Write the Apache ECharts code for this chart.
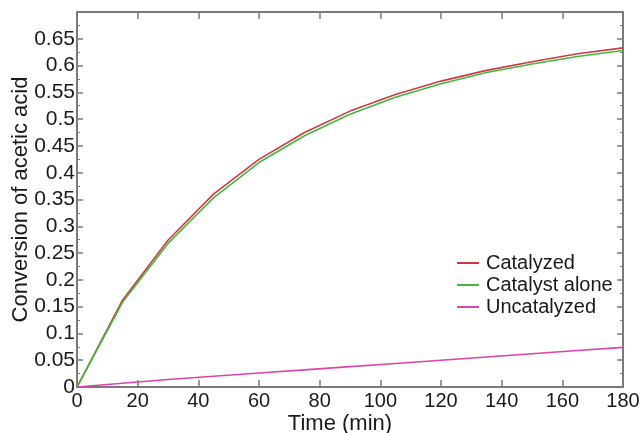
<!DOCTYPE html>
<html>
<head>
<meta charset="utf-8">
<script src="https://cdn.jsdelivr.net/npm/echarts@6/dist/echarts.min.js"></script>
<style>
  html, body { margin: 0; padding: 0; background: #fff; }
  #chart { width: 644px; height: 433px; }
</style>
</head>
<body>
<div id="chart"></div>
<script>
const time = [0, 15, 30, 45, 60, 75, 90, 105, 120, 135, 150, 165, 180]
const catalyzed = [0, 0.162, 0.274, 0.36, 0.425, 0.475, 0.515, 0.546, 0.571, 0.591, 0.607, 0.622, 0.633]
const catalystAlone = [0, 0.158, 0.268, 0.353, 0.419, 0.469, 0.509, 0.541, 0.566, 0.587, 0.603, 0.617, 0.628]
const uncatalyzed = [0, 0.007, 0.014, 0.02, 0.026, 0.032, 0.038, 0.044, 0.05, 0.056, 0.062, 0.068, 0.074]

const pairs = vals => time.map((t, i) => [t, vals[i]])

const axisColor = '#7a7a7a'
const textColor = '#1a1a1a'
const font = 'Liberation Sans, Arial, sans-serif'

const chart = echarts.init(document.getElementById('chart'))

const lineSeries = (name, vals, color) => ({
    name,
    type: 'line',
    data: pairs(vals),
    showSymbol: false,
    symbol: 'none',
    lineStyle: { color, width: 1.6 },
    itemStyle: { color },
    animation: false
})

// mirrored axes (top / right) only carry ticks
const tickStyle = { color: axisColor, width: 1.5 }

chart.setOption({
    backgroundColor: '#fff',
    grid: { left: 77, right: 21, top: 12, bottom: 46, outerBoundsMode: 'none', containLabel: false },
    legend: {
        orient: 'vertical',
        left: 457,
        top: 253,
        padding: 0,
        itemWidth: 22,
        itemHeight: 2,
        itemGap: 2,
        icon: 'rect',
        textStyle: { fontFamily: font, fontSize: 20, lineHeight: 20, color: textColor, padding: [0, 0, 0, 2] },
        data: ['Catalyzed', 'Catalyst alone', 'Uncatalyzed']
    },
    xAxis: [{
        type: 'value',
        min: 0, max: 180, interval: 20,
        name: 'Time (min)',
        nameLocation: 'middle',
        nameGap: 26,
        nameMoveOverlap: false,
        nameTextStyle: { fontFamily: font, fontSize: 22, color: textColor, padding: [0, 20, 0, 0] },
        axisLine: { onZero: false, lineStyle: { color: axisColor, width: 2 } },
        axisTick: { inside: true, length: 7, lineStyle: tickStyle },
        axisLabel: { fontFamily: font, fontSize: 20, color: textColor, margin: 4 },
        splitLine: { show: false }
    }, {
        type: 'value',
        position: 'top',
        min: 0, max: 180, interval: 20,
        axisLine: { show: true, onZero: false, lineStyle: { color: axisColor, width: 2 } },
        axisTick: { show: true, inside: true, length: 7, lineStyle: tickStyle },
        axisLabel: { show: false },
        splitLine: { show: false }
    }],
    yAxis: [{
        type: 'value',
        min: 0, max: 0.7, interval: 0.05,
        name: 'Conversion of acetic acid',
        nameLocation: 'middle',
        nameGap: 45,
        nameMoveOverlap: false,
        nameTextStyle: { fontFamily: font, fontSize: 22, color: textColor },
        axisLine: { show: true, onZero: false, lineStyle: { color: axisColor, width: 2 } },
        axisTick: { inside: true, length: 6, lineStyle: tickStyle },
        minorTick: { show: true, splitNumber: 2, length: 3, lineStyle: { color: axisColor } },
        axisLabel: {
            fontFamily: font, fontSize: 21, color: textColor, margin: 2,
            formatter: v => (v > 0.69 ? '' : String(+v.toFixed(2)))
        },
        splitLine: { show: false }
    }, {
        type: 'value',
        position: 'right',
        min: 0, max: 0.7, interval: 0.05,
        axisLine: { show: true, onZero: false, lineStyle: { color: axisColor, width: 2 } },
        axisTick: { show: true, inside: true, length: 6, lineStyle: tickStyle },
        minorTick: { show: true, splitNumber: 2, length: 3, lineStyle: { color: axisColor } },
        axisLabel: { show: false },
        splitLine: { show: false }
    }],
    series: [
        lineSeries('Catalyzed', catalyzed, '#cc3a4a'),
        lineSeries('Catalyst alone', catalystAlone, '#44b83a'),
        lineSeries('Uncatalyzed', uncatalyzed, '#dd44a8')
    ]
})
</script>
</body>
</html>
